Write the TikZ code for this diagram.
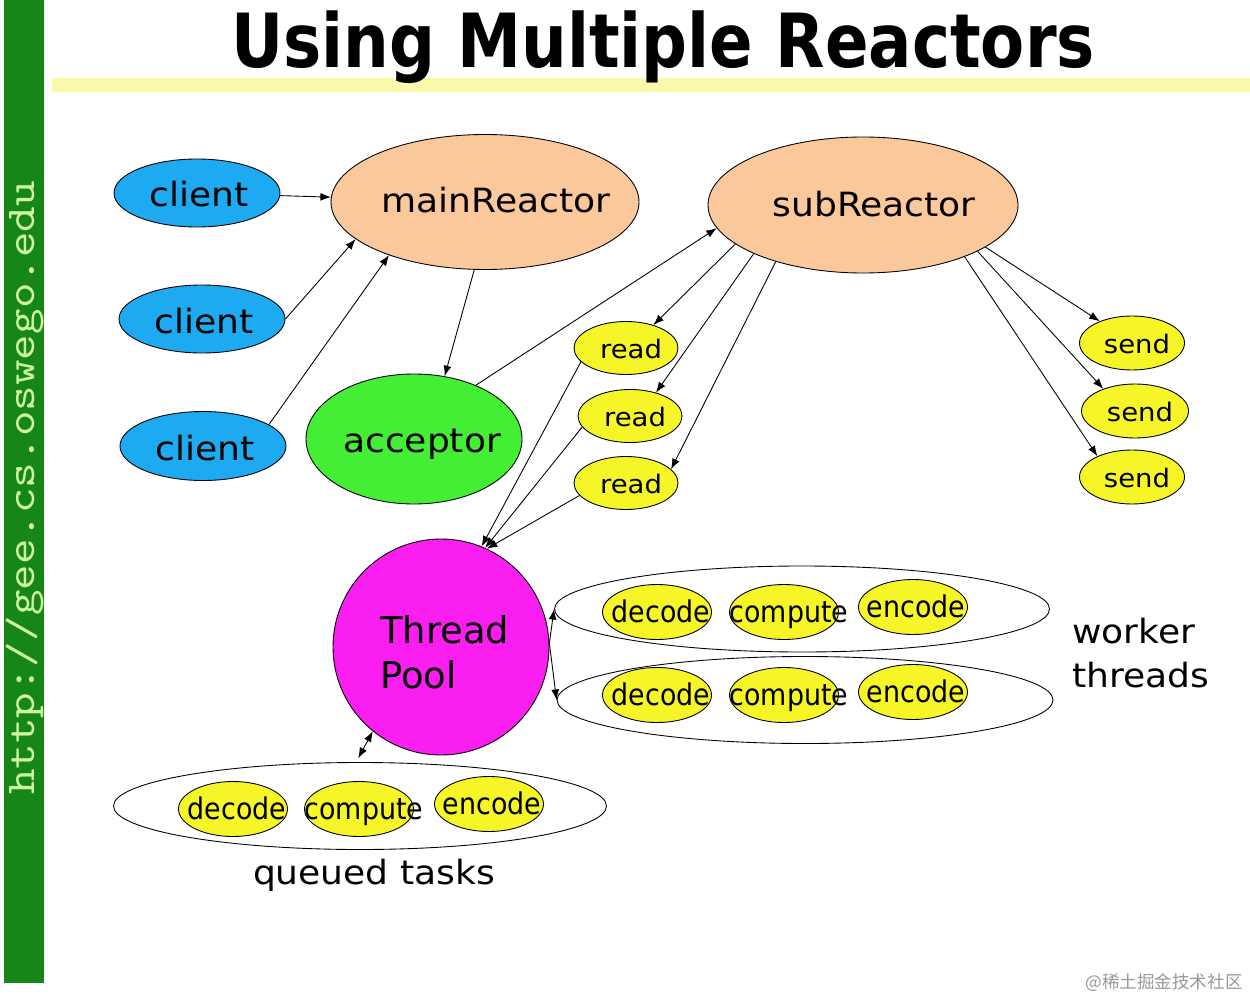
\documentclass[tikz,border=0pt]{standalone}
\usepackage{fontspec}
\setmainfont{DejaVu Sans}[FakeStretch=1.08]
\newfontfamily\titlefont{DejaVu Sans}[FakeStretch=0.86]
\newfontfamily\taskfont{DejaVu Sans}[FakeStretch=0.9]
\newfontfamily\plainfont{DejaVu Sans}
\newfontfamily\barfont{lmmono10-regular.otf}[FakeStretch=1.19]
\newfontfamily\cjkfont{Noto Sans CJK SC}
\usetikzlibrary{shapes.geometric,arrows.meta}
\newcommand\upx{0.02cm}
\definecolor{cblue}{RGB}{30,170,240}
\definecolor{peach}{RGB}{250,200,155}
\definecolor{accgreen}{RGB}{68,238,52}
\definecolor{yel}{RGB}{245,245,40}
\definecolor{mag}{RGB}{250,30,240}
\definecolor{bargreen}{RGB}{22,135,22}
\definecolor{bartext}{RGB}{205,245,165}
\definecolor{band}{RGB}{250,250,170}
\begin{document}
\begin{tikzpicture}[x=0.02cm,y=-0.02cm,
  ell/.style={ellipse, draw=black, line width=0.5pt, inner sep=0pt},
  txt/.style={anchor=base, inner sep=0pt, font=\fontsize{19pt}{23pt}\selectfont},
  smalltxt/.style={anchor=base, inner sep=0pt, font=\fontsize{14.5pt}{17pt}\selectfont},
  tasktxt/.style={anchor=base, inner sep=0pt, font=\taskfont\fontsize{17pt}{20pt}\selectfont},
  task/.style={ell, fill=yel, minimum width=109*\upx, minimum height=55*\upx},
  rs/.style={ell, fill=yel, minimum width=104*\upx, minimum height=53*\upx},
  arr/.style={-{Latex[length=6pt,width=4.5pt]}, line width=0.5pt},
  darr/.style={{Latex[length=6pt,width=4.5pt]}-{Latex[length=6pt,width=4.5pt]}, line width=0.5pt}]
\useasboundingbox (0,0) rectangle (1250,1000);
\fill[white] (0,0) rectangle (1250,1000);
% side bar
\fill[bargreen] (4,0) rectangle (44,983);
\node[rotate=90, inner sep=0pt, text=bartext, font=\barfont\fontsize{23.3pt}{28pt}\selectfont] (url) at (25,488) {http://gee.cs.oswego.edu};
% title
\fill[band] (52,78) rectangle (1250,92);
\node[anchor=base, inner sep=0pt, font=\titlefont\bfseries\fontsize{42.5pt}{50pt}\selectfont] (title) at (663,68) {Using Multiple Reactors};
% clients
\node[ell, fill=cblue, minimum width=166*\upx, minimum height=68*\upx] (c1) at (197,193) {};
\node[txt] (c1t) at (199,207) {client};
\node[ell, fill=cblue, minimum width=166*\upx, minimum height=68*\upx] (c2) at (202,319) {};
\node[txt] (c2t) at (204,333) {client};
\node[ell, fill=cblue, minimum width=166*\upx, minimum height=69*\upx] (c3) at (203,446) {};
\node[txt] (c3t) at (205,460) {client};
% reactors
\node[ell, fill=peach, minimum width=308*\upx, minimum height=135*\upx] (mainR) at (485,202) {};
\node[txt] (mainRt) at (496,213) {mainReactor};
\node[ell, fill=peach, minimum width=310*\upx, minimum height=136*\upx] (subR) at (863,205) {};
\node[txt] (subRt) at (874,216) {subReactor};
% acceptor
\node[ell, fill=accgreen, minimum width=216*\upx, minimum height=130*\upx] (acc) at (414,439) {};
\node[txt] (acct) at (422,452) {acceptor};
% reads
\node[rs] (r1) at (626,348) {};
\node[smalltxt] (r1t) at (631,358) {read};
\node[rs] (r2) at (630,416) {};
\node[smalltxt] (r2t) at (635,426) {read};
\node[rs] (r3) at (626,483) {};
\node[smalltxt] (r3t) at (631,493) {read};
% sends
\node[rs, minimum width=105*\upx, minimum height=54*\upx] (s1) at (1132,343) {};
\node[smalltxt] (s1t) at (1137,353) {send};
\node[rs, minimum width=107*\upx, minimum height=54*\upx] (s2) at (1135,411) {};
\node[smalltxt] (s2t) at (1140,421) {send};
\node[rs, minimum width=105*\upx, minimum height=54*\upx] (s3) at (1132,477) {};
\node[smalltxt] (s3t) at (1137,487) {send};
% thread pool
\node[circle, draw=black, line width=0.5pt, fill=mag, minimum size=216*\upx, inner sep=0pt] (tp) at (441,647) {};
\node[anchor=base west, inner sep=0pt, font=\plainfont\fontsize{21pt}{25pt}\selectfont] (tpt1) at (380,643) {Thread};
\node[anchor=base west, inner sep=0pt, font=\plainfont\fontsize{21pt}{25pt}\selectfont] (tpt2) at (380,688) {Pool};
% worker threads
\node[ell, minimum width=495*\upx, minimum height=86*\upx] (w1) at (802,609) {};
\node[ell, minimum width=496*\upx, minimum height=87*\upx] (w2) at (805,700) {};
\node[task] (d1) at (657,612) {};
\node[tasktxt] (d1t) at (661,622) {decode};
\node[task] (k1) at (784,612) {};
\node[tasktxt] (k1t) at (789,622) {compute};
\node[task] (e1) at (913,607) {};
\node[tasktxt] (e1t) at (916,617) {encode};
\node[task] (d2) at (657,695) {};
\node[tasktxt] (d2t) at (661,705) {decode};
\node[task] (k2) at (784,695) {};
\node[tasktxt] (k2t) at (789,705) {compute};
\node[task] (e2) at (913,692) {};
\node[tasktxt] (e2t) at (916,702) {encode};
\node[anchor=base west, inner sep=0pt, font=\fontsize{19pt}{23pt}\selectfont] (wt1) at (1072,643) {worker};
\node[anchor=base west, inner sep=0pt, font=\fontsize{19pt}{23pt}\selectfont] (wt2) at (1072,687) {threads};
% queued tasks
\node[ell, minimum width=493*\upx, minimum height=87*\upx] (q) at (360,806) {};
\node[task] (d3) at (233,809) {};
\node[tasktxt] (d3t) at (237,819) {decode};
\node[task] (k3) at (359,809) {};
\node[tasktxt] (k3t) at (364,819) {compute};
\node[task] (e3) at (489,804) {};
\node[tasktxt] (e3t) at (492,814) {encode};
\node[txt] (qt) at (374,884) {queued tasks};
% watermark
\node[inner sep=0pt, text=black!40, font=\cjkfont\fontsize{10pt}{12pt}\selectfont] (wm) at (1164,983) {@稀土掘金技术社区};
% connectors
\draw[arr] (c1) -- (mainR);
\draw[arr] (c2.east) -- (mainR.196);
\draw[arr] (c3.18) -- (mainR.209);
\draw[arr] (mainR.261) -- (acc.64);
\draw[arr] (acc.41) -- (subR.189);
\draw[arr] (subR.197) -- (r1.40);
\draw[arr] (subR.204) -- (r2.42);
\draw[arr] (subR.213) -- (r3.17);
\draw[arr] (subR.-19) -- (s1.146);
\draw[arr] (subR.-22) -- (s2.145);
\draw[arr] (subR.-27) -- (s3.149);
\draw[arr] (r1.197) -- (tp.68);
\draw[arr] (r2.193) -- (tp.66);
\draw[arr] (r3.195) -- (tp.65);
\draw[arr] (tp.2) -- (w1.west);
\draw[arr] (tp.2) -- (w2.west);
\draw[darr, shorten >=2.5pt] (tp.231) -- (q.95);
\end{tikzpicture}
\end{document}
